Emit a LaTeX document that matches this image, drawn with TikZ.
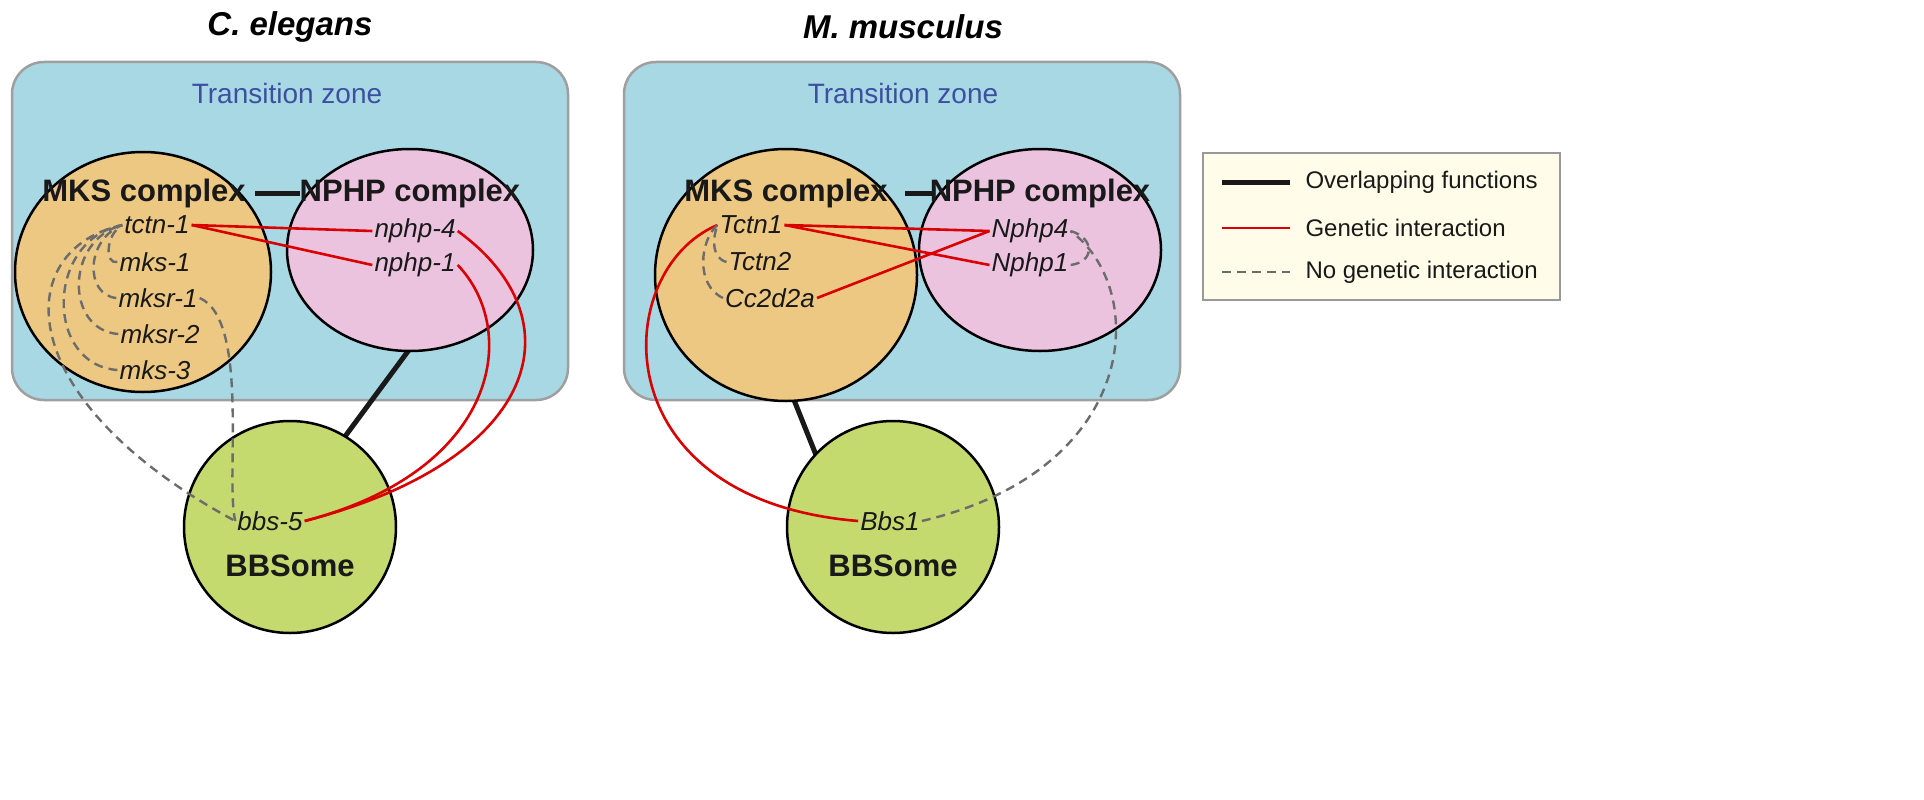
\documentclass[tikz,border=0pt]{standalone}
\usepackage{fontspec}
\setmainfont{Liberation Sans}
\usetikzlibrary{shapes.geometric}
\begin{document}
\begin{tikzpicture}[x=1pt,y=-1pt,
  zone/.style={draw=gray!75,line width=2.5pt,fill=tzfill,rounded corners=32pt},
  mks/.style={ellipse,draw=black,line width=2.5pt,fill=mksfill},
  nphp/.style={ellipse,draw=black,line width=2.5pt,fill=nphpfill},
  bbs/.style={circle,draw=black,line width=2.5pt,fill=bbsfill},
  cplx/.style={font=\fontsize{31}{36}\selectfont\bfseries,text=black!90},
  gene/.style={font=\fontsize{26}{30}\selectfont\itshape,text=black!90,inner sep=2pt},
  over/.style={line width=5pt,black!90},
  gen/.style={line width=2.6pt,red!85!black},
  nogen/.style={line width=2.4pt,gray!85!black,dash pattern=on 9pt off 6pt},
  ttl/.style={font=\fontsize{33}{38}\selectfont\bfseries\itshape},
  tz/.style={font=\fontsize{28}{32}\selectfont,text=tzblue},
  leg/.style={font=\fontsize{24}{28}\selectfont,anchor=west,text=black!90}]
\definecolor{tzfill}{HTML}{A8D8E4}
\definecolor{mksfill}{HTML}{EDC882}
\definecolor{nphpfill}{HTML}{EBC3DF}
\definecolor{bbsfill}{HTML}{C4D96E}
\definecolor{tzblue}{HTML}{3D4FA0}
\definecolor{legfill}{HTML}{FFFDE9}
\useasboundingbox (0,0) rectangle (1924,800);
% titles
\node[ttl] (t1) at (290,27) {C. elegans};
\node[ttl] (t2) at (903,27) {M. musculus};
% ---------- left panel
\node[zone,minimum width=556pt,minimum height=338pt] (z1) at (290,231) {};
\node[tz] (tz1) at (287,93) {Transition zone};
\draw[over] (255,193) -- (300,193);
\draw[over] (420,335) -- (335,450);
\node[mks,minimum width=256pt,minimum height=240pt] (m1) at (143,272) {};
\node[nphp,minimum width=246pt,minimum height=202pt] (n1) at (410,250) {};
\node[bbs,minimum size=212pt] (b1) at (290,527) {};
\node[cplx] (m1l) at (144,193) {MKS complex};
\node[cplx] (n1l) at (410,193) {NPHP complex};
\node[gene] (g1) at (157,225) {tctn-1};
\node[gene] (g2) at (155,262) {mks-1};
\node[gene] (g3) at (158,298) {mksr-1};
\node[gene] (g4) at (160,334) {mksr-2};
\node[gene] (g5) at (155,370) {mks-3};
\node[gene] (g6) at (415,231) {nphp-4};
\node[gene] (g7) at (415,265) {nphp-1};
\node[gene] (g8) at (270,521) {bbs-5};
\node[cplx] (b1l) at (290,566) {BBSome};
\draw[gen] (g1.east) -- (g6.west);
\draw[gen] (g1.east) -- (g7.west);
\draw[gen] (g6.east) .. controls (580,320) and (540,460) .. (g8.east);
\draw[gen] (g7.east) .. controls (520,330) and (500,470) .. (g8.east);
\draw[nogen] (g2.west) .. controls (105,265) and (105,235) .. (g1.west);
\draw[nogen] (g3.west) .. controls (85,295) and (85,240) .. (g1.west);
\draw[nogen] (g4.west) .. controls (65,330) and (65,240) .. (g1.west);
\draw[nogen] (g5.west) .. controls (45,365) and (45,240) .. (g1.west);
\draw[nogen] (g1.west) .. controls (10,250) and (10,400) .. (g8.west);
\draw[nogen] (g3.east) .. controls (250,320) and (225,480) .. (g8.west);
% ---------- right panel
\node[zone,minimum width=556pt,minimum height=338pt] (z2) at (902,231) {};
\node[tz] (tz2) at (903,93) {Transition zone};
\draw[over] (905,193) -- (935,193);
\draw[over] (790,390) -- (822,470);
\node[mks,minimum width=262pt,minimum height=252pt] (m2) at (786,275) {};
\node[nphp,minimum width=242pt,minimum height=202pt] (n2) at (1040,250) {};
\node[bbs,minimum size=212pt] (b2) at (893,527) {};
\node[cplx] (m2l) at (786,193) {MKS complex};
\node[cplx] (n2l) at (1040,193) {NPHP complex};
\node[gene] (h1) at (751,225) {Tctn1};
\node[gene] (h2) at (760,262) {Tctn2};
\node[gene] (h3) at (770,298) {Cc2d2a};
\node[gene] (h4) at (1030,231) {Nphp4};
\node[gene] (h5) at (1030,265) {Nphp1};
\node[gene] (h6) at (890,521) {Bbs1};
\node[cplx] (b2l) at (893,566) {BBSome};
\draw[gen] (h1.east) -- (h4.west);
\draw[gen] (h1.east) -- (h5.west);
\draw[gen] (h3.east) -- (h4.west);
\draw[gen] (h1.west) .. controls (610,270) and (600,500) .. (h6.west);
\draw[nogen] (h2.west) .. controls (712,258) and (712,240) .. (h1.west);
\draw[nogen] (h3.west) .. controls (695,285) and (700,240) .. (h1.west);
\draw[nogen] (h4.east) .. controls (1095,238) and (1095,262) .. (h5.east);
\draw[nogen] (h6.east) .. controls (1140,470) and (1150,290) .. (h4.east);
% ---------- legend
\node[draw=gray!80,line width=1.5pt,fill=legfill,minimum width=357pt,minimum height=147pt] (lg) at (1381.5,226.5) {};
\coordinate (a1) at (1222,182); \coordinate (a2) at (1290,182);
\coordinate (c1) at (1222,228); \coordinate (c2) at (1290,228);
\coordinate (d1) at (1222,272); \coordinate (d2) at (1290,272);
\draw[over] (a1) -- (a2);
\draw[gen] (c1) -- (c2);
\draw[nogen] (d1) -- (d2);
\node[leg] (l1) at (1302,182) {Overlapping functions};
\node[leg] (l2) at (1302,228) {Genetic interaction};
\node[leg] (l3) at (1302,272) {No genetic interaction};
\end{tikzpicture}
\end{document}
